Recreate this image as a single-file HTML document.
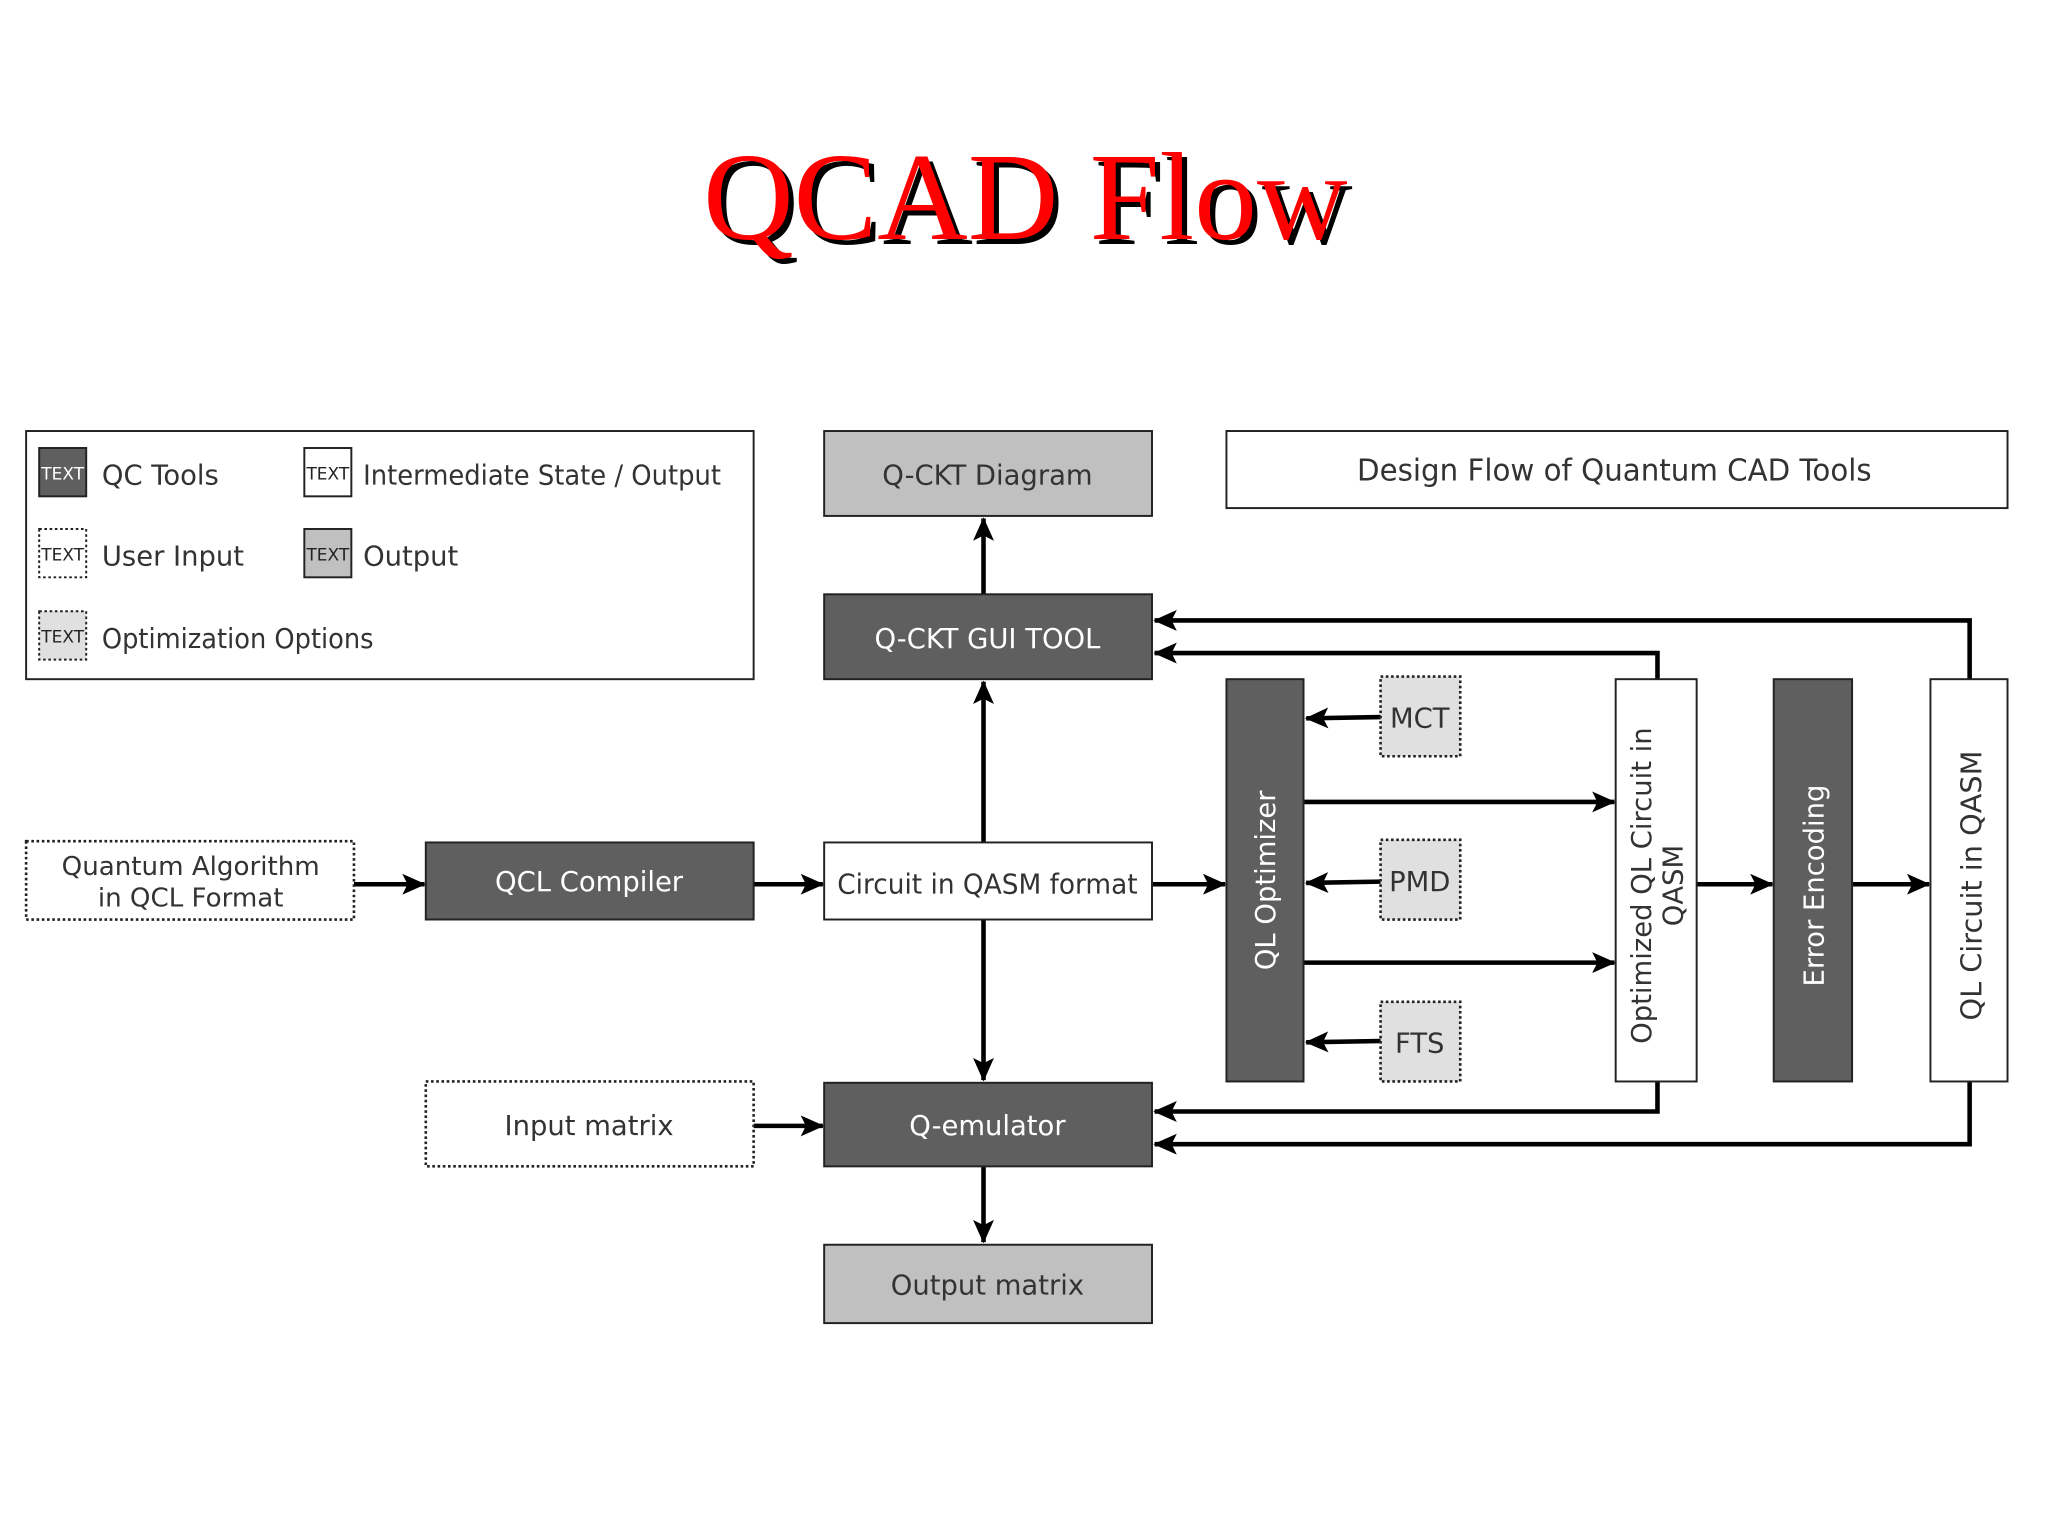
<!DOCTYPE html>
<html><head><meta charset="utf-8"><style>
html,body{margin:0;padding:0;background:#fff;}
svg{display:block;}
</style></head><body>
<svg width="2048" height="1536" viewBox="0 0 1568 1176" xmlns="http://www.w3.org/2000/svg">
<defs>
<marker id="ah" viewBox="0 0 18 16" refX="17" refY="8" markerWidth="18" markerHeight="16" orient="auto" markerUnits="userSpaceOnUse"><path d="M0,0 L18,8 L0,16 L4,8 Z" fill="#000"/></marker>
</defs>
<rect width="1568" height="1176" fill="#fff"/>
<g font-family="Liberation Serif, serif" font-size="96" text-anchor="middle">
<text x="789" y="187" fill="#000">QCAD Flow</text>
<text x="785" y="183" fill="#f00">QCAD Flow</text>
</g>
<g font-family="DejaVu Sans, Liberation Sans, sans-serif" fill="#333">
<rect x="20" y="330" width="557" height="190" fill="#fff" stroke="#222" stroke-width="1.5"/>
<rect x="30" y="343" width="36" height="37" fill="#5f5f5f" stroke="#222" stroke-width="1.5"/>
<text x="48" y="367" font-size="13" fill="#fff" text-anchor="middle">TEXT</text>
<text x="78" y="371" font-size="21">QC Tools</text>
<rect x="233" y="343" width="36" height="37" fill="#fff" stroke="#222" stroke-width="1.5"/>
<text x="251" y="367" font-size="13" fill="#222" text-anchor="middle">TEXT</text>
<text x="278" y="371" font-size="21" textLength="274" lengthAdjust="spacingAndGlyphs">Intermediate State / Output</text>
<rect x="30" y="405" width="36" height="37" fill="#fff" stroke="#222" stroke-width="1.5" stroke-dasharray="2,2"/>
<text x="48" y="429" font-size="13" fill="#222" text-anchor="middle">TEXT</text>
<text x="78" y="433" font-size="21">User Input</text>
<rect x="233" y="405" width="36" height="37" fill="#c0c0c0" stroke="#222" stroke-width="1.5"/>
<text x="251" y="429" font-size="13" fill="#222" text-anchor="middle">TEXT</text>
<text x="278" y="433" font-size="21">Output</text>
<rect x="30" y="468" width="36" height="37" fill="#e0e0e0" stroke="#222" stroke-width="1.5" stroke-dasharray="2,2"/>
<text x="48" y="492" font-size="13" fill="#222" text-anchor="middle">TEXT</text>
<text x="78" y="496" font-size="21" textLength="208" lengthAdjust="spacingAndGlyphs">Optimization Options</text>

<rect x="939" y="330" width="598" height="59" fill="#fff" stroke="#222" stroke-width="1.5"/>
<text x="1236" y="368" font-size="23" text-anchor="middle" textLength="394" lengthAdjust="spacingAndGlyphs">Design Flow of Quantum CAD Tools</text>

<g stroke="#000" stroke-width="3.5" fill="none">
<line x1="753" y1="455" x2="753" y2="397" marker-end="url(#ah)"/>
<line x1="753" y1="645" x2="753" y2="522" marker-end="url(#ah)"/>
<line x1="753" y1="704" x2="753" y2="827" marker-end="url(#ah)"/>
<line x1="753" y1="893" x2="753" y2="951" marker-end="url(#ah)"/>
<line x1="271" y1="677" x2="325" y2="677" marker-end="url(#ah)"/>
<line x1="577" y1="677" x2="630" y2="677" marker-end="url(#ah)"/>
<line x1="882" y1="677" x2="938" y2="677" marker-end="url(#ah)"/>
<line x1="998" y1="614" x2="1236" y2="614" marker-end="url(#ah)"/>
<line x1="998" y1="737" x2="1236" y2="737" marker-end="url(#ah)"/>
<line x1="1057" y1="549" x2="1000" y2="550" marker-end="url(#ah)"/>
<line x1="1057" y1="675" x2="1000" y2="676" marker-end="url(#ah)"/>
<line x1="1057" y1="797" x2="1000" y2="798" marker-end="url(#ah)"/>
<line x1="1299" y1="677" x2="1357" y2="677" marker-end="url(#ah)"/>
<line x1="1418" y1="677" x2="1477" y2="677" marker-end="url(#ah)"/>
<line x1="577" y1="862" x2="630" y2="862" marker-end="url(#ah)"/>
<polyline points="1508,520 1508,475 884,475" marker-end="url(#ah)"/>
<polyline points="1269,520 1269,500 884,500" marker-end="url(#ah)"/>
<polyline points="1269,828 1269,851 884,851" marker-end="url(#ah)"/>
<polyline points="1508,828 1508,876 884,876" marker-end="url(#ah)"/>
</g>

<rect x="631" y="330" width="251" height="65" fill="#c0c0c0" stroke="#222" stroke-width="1.5"/>
<text x="756" y="371" font-size="21" text-anchor="middle">Q-CKT Diagram</text>
<rect x="631" y="455" width="251" height="65" fill="#5f5f5f" stroke="#222" stroke-width="1.5"/>
<text x="756" y="496" font-size="21" fill="#fff" text-anchor="middle">Q-CKT GUI TOOL</text>
<rect x="20" y="644" width="251" height="60" fill="#fff" stroke="#222" stroke-width="2" stroke-dasharray="2,2"/>
<text x="146" y="670" font-size="20" text-anchor="middle">Quantum Algorithm</text>
<text x="146" y="694" font-size="20" text-anchor="middle">in QCL Format</text>
<rect x="326" y="645" width="251" height="59" fill="#5f5f5f" stroke="#222" stroke-width="1.5"/>
<text x="451" y="682" font-size="21" fill="#fff" text-anchor="middle">QCL Compiler</text>
<rect x="631" y="645" width="251" height="59" fill="#fff" stroke="#222" stroke-width="1.5"/>
<text x="756" y="684" font-size="21" text-anchor="middle" textLength="230" lengthAdjust="spacingAndGlyphs">Circuit in QASM format</text>
<rect x="326" y="828" width="251" height="65" fill="#fff" stroke="#222" stroke-width="2" stroke-dasharray="2,2"/>
<text x="451" y="869" font-size="21" text-anchor="middle">Input matrix</text>
<rect x="631" y="829" width="251" height="64" fill="#5f5f5f" stroke="#222" stroke-width="1.5"/>
<text x="756" y="869" font-size="21" fill="#fff" text-anchor="middle">Q-emulator</text>
<rect x="631" y="953" width="251" height="60" fill="#c0c0c0" stroke="#222" stroke-width="1.5"/>
<text x="756" y="991" font-size="21" text-anchor="middle">Output matrix</text>

<rect x="939" y="520" width="59" height="308" fill="#5f5f5f" stroke="#222" stroke-width="1.5"/>
<text transform="translate(976,674) rotate(-90)" font-size="21" fill="#fff" text-anchor="middle">QL Optimizer</text>
<rect x="1057" y="518" width="61" height="61" fill="#e0e0e0" stroke="#222" stroke-width="2" stroke-dasharray="2,2"/>
<text x="1087" y="557" font-size="21" text-anchor="middle">MCT</text>
<rect x="1057" y="643" width="61" height="61" fill="#e0e0e0" stroke="#222" stroke-width="2" stroke-dasharray="2,2"/>
<text x="1087" y="682" font-size="21" text-anchor="middle">PMD</text>
<rect x="1057" y="767" width="61" height="61" fill="#e0e0e0" stroke="#222" stroke-width="2" stroke-dasharray="2,2"/>
<text x="1087" y="806" font-size="21" text-anchor="middle">FTS</text>
<rect x="1237" y="520" width="62" height="308" fill="#fff" stroke="#222" stroke-width="1.5"/>
<text transform="translate(1264,678) rotate(-90)" font-size="21" text-anchor="middle">Optimized QL Circuit in</text>
<text transform="translate(1288,678) rotate(-90)" font-size="21" text-anchor="middle">QASM</text>
<rect x="1358" y="520" width="60" height="308" fill="#5f5f5f" stroke="#222" stroke-width="1.5"/>
<text transform="translate(1396,678) rotate(-90)" font-size="21" fill="#fff" text-anchor="middle">Error Encoding</text>
<rect x="1478" y="520" width="59" height="308" fill="#fff" stroke="#222" stroke-width="1.5"/>
<text transform="translate(1517,678) rotate(-90)" font-size="22" text-anchor="middle">QL Circuit in QASM</text>
</g>
</svg>
</body></html>
